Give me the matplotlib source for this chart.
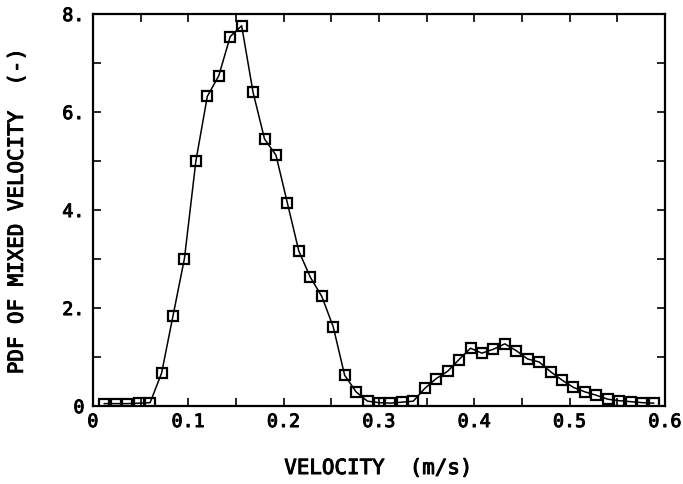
import matplotlib
matplotlib.use("Agg")
import matplotlib.pyplot as plt
import matplotlib.patheffects as pe
from matplotlib.ticker import MultipleLocator, FixedLocator, FixedFormatter

# Velocity bins (m/s) and PDF of mixed velocity (-)
velocity = [0.012, 0.024, 0.036, 0.048, 0.060, 0.072, 0.084, 0.096, 0.108, 0.120,
            0.132, 0.144, 0.156, 0.168, 0.180, 0.192, 0.204, 0.216, 0.228, 0.240,
            0.252, 0.264, 0.276, 0.288, 0.300, 0.312, 0.324, 0.336, 0.348, 0.360,
            0.372, 0.384, 0.396, 0.408, 0.420, 0.432, 0.444, 0.456, 0.468, 0.480,
            0.492, 0.504, 0.516, 0.528, 0.540, 0.552, 0.564, 0.576, 0.588]
pdf = [0.05, 0.05, 0.05, 0.06, 0.07, 0.67, 1.84, 3.01, 5.00, 6.32,
       6.74, 7.54, 7.76, 6.40, 5.45, 5.12, 4.14, 3.16, 2.63, 2.24,
       1.62, 0.63, 0.29, 0.10, 0.07, 0.06, 0.08, 0.10, 0.36, 0.56,
       0.71, 0.95, 1.18, 1.08, 1.16, 1.27, 1.13, 0.96, 0.90, 0.70,
       0.53, 0.38, 0.29, 0.22, 0.14, 0.11, 0.09, 0.07, 0.06]

x_ticks = [0.0, 0.1, 0.2, 0.3, 0.4, 0.5, 0.6]
x_tick_labels = ["0", "0.1", "0.2", "0.3", "0.4", "0.5", "0.6"]
y_ticks = [0, 2, 4, 6, 8]
y_tick_labels = ["0", "2.", "4.", "6.", "8."]

plt.rcParams["font.family"] = ["DejaVu Sans Mono"]
heavy = [pe.withStroke(linewidth=0.7, foreground="black")]

fig = plt.figure(figsize=(6.83, 4.84), dpi=100)
ax = fig.add_axes([0.136, 0.161, 0.8377, 0.810])

ax.plot(velocity, pdf, color="black", lw=1.1, marker="s", ms=7.5,
        mfc="none", mec="black", mew=1.6)

ax.set_xlim(0, 0.6)
ax.set_ylim(0, 8)

ax.xaxis.set_major_locator(FixedLocator(x_ticks))
ax.xaxis.set_major_formatter(FixedFormatter(x_tick_labels))
ax.xaxis.set_minor_locator(MultipleLocator(0.05))
ax.yaxis.set_major_locator(FixedLocator(y_ticks))
ax.yaxis.set_major_formatter(FixedFormatter(y_tick_labels))
ax.yaxis.set_minor_locator(MultipleLocator(1))

ax.tick_params(which="both", direction="in", top=True, right=True,
               length=6, width=1.2, color="black")
ax.tick_params(axis="x", which="major", pad=5, labelsize=13.2)
ax.tick_params(axis="y", which="major", pad=6, labelsize=13.2)
for lab in ax.get_xticklabels() + ax.get_yticklabels():
    lab.set_path_effects(heavy)

for sp in ax.spines.values():
    sp.set_linewidth(1.6)

ax.set_xlabel("VELOCITY  (m/s)", fontsize=15, va="center", path_effects=heavy)
ax.xaxis.set_label_coords(0.5, -0.158)
ax.set_ylabel("PDF OF MIXED VELOCITY  (-)", fontsize=15, va="center",
              path_effects=heavy)
ax.yaxis.set_label_coords(-0.133, 0.5)

fig.savefig("out.png", dpi=100)
